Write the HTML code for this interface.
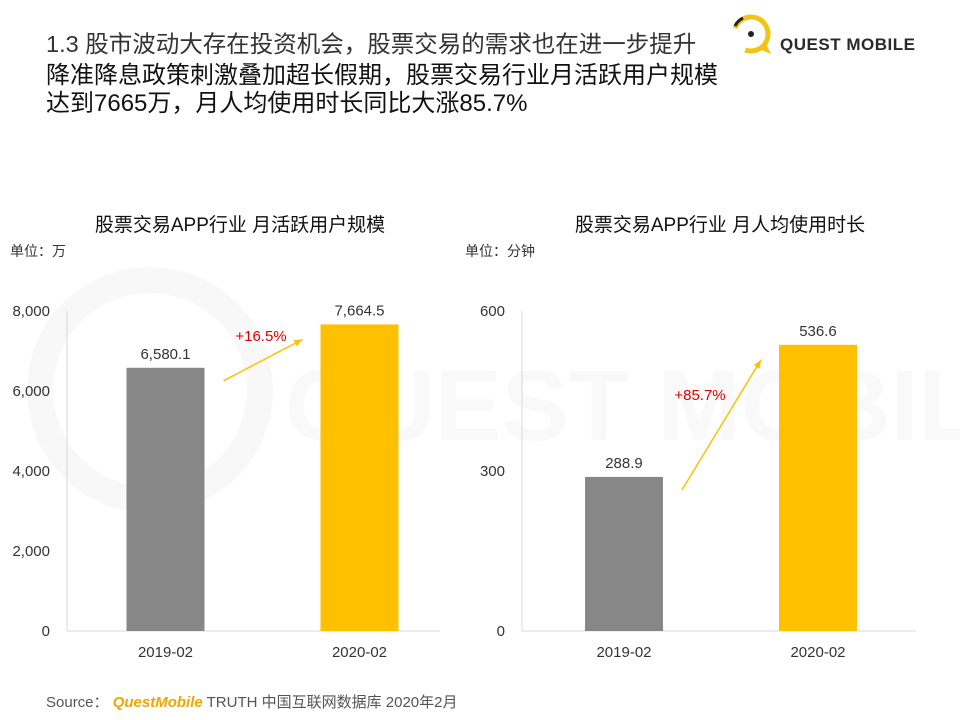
<!DOCTYPE html>
<html><head><meta charset="utf-8"><style>
body{margin:0;width:960px;height:720px;background:#fff;overflow:hidden;font-family:"Liberation Sans","Noto Sans CJK SC",sans-serif;position:relative}
.t{position:absolute;white-space:nowrap;color:#222}
</style></head><body>
<svg style="position:absolute;left:0;top:0" width="960" height="720">
<circle cx="150" cy="390" r="110" fill="none" stroke="#f8f8f8" stroke-width="26"/>
<text x="285" y="440" font-size="100" font-weight="bold" fill="#f9f9f9" font-family="Liberation Sans">QUEST MOBILE</text>
</svg>
<div class="t" style="left:46px;top:25px;font-size:23.5px;color:#333">1.3 股市波动大存在投资机会，股票交易的需求也在进一步提升</div>
<div class="t" style="left:46px;top:62px;font-size:24px;line-height:28px;color:#111">降准降息政策刺激叠加超长假期，股票交易行业月活跃用户规模<br>达到7665万，月人均使用时长同比大涨85.7%</div>
<svg style="position:absolute;left:727px;top:12px" width="220" height="50">
<circle cx="24" cy="22" r="17" fill="none" stroke="#f3c316" stroke-width="5" stroke-dasharray="80 27" transform="rotate(200 24 22)"/>
<path d="M30 36 L44 42 L38 30Z" fill="#f3c316"/>
<circle cx="24" cy="22" r="3" fill="#222"/>
<path d="M8 14 A17 17 0 0 1 16 6" stroke="#222" stroke-width="3" fill="none"/>
<text x="53" y="38" font-size="17" font-weight="bold" fill="#2a2a2a" font-family="Liberation Sans" textLength="135">QUEST MOBILE</text>
</svg>
<svg id="chart" style="position:absolute;left:0;top:0" width="960" height="720" font-family="Liberation Sans, Noto Sans CJK SC, sans-serif"></svg>
<div class="t" style="left:46px;top:691px;font-size:15px;color:#555">Source：&nbsp;<span style="color:#f0a500;font-weight:bold;font-style:italic">QuestMobile</span> TRUTH 中国互联网数据库 2020年2月</div>
<script>
const categories=["2019-02","2020-02"];
const mauValues=[6580.1,7664.5];
const durValues=[288.9,536.6];
const mauTicks=[0,2000,4000,6000,8000];
const durTicks=[0,300,600];
const mauGrowth="+16.5%";
const durGrowth="+85.7%";
const svg=document.getElementById('chart');
const NS='http://www.w3.org/2000/svg';
function mk(tag,a,txt){const e=document.createElementNS(NS,tag);for(const k in a)e.setAttribute(k,a[k]);if(txt!==undefined)e.textContent=txt;svg.appendChild(e);return e;}
function fmt(v,dec){return v.toLocaleString('en-US',{minimumFractionDigits:dec,maximumFractionDigits:dec});}
function drawChart(o){
  const y=v=>631-v/o.max*320;
  const ax=mk('line',{x1:o.ax,y1:311,x2:o.ax,y2:631,stroke:'#d9d9d9'});
  
  const bl=mk('line',{x1:o.ax,y1:631,x2:o.ax+o.w,y2:631,stroke:'#d9d9d9'});
  
  o.ticks.forEach(t=>{const e=mk('text',{x:o.ax-17,y:y(t)+5,'text-anchor':'end','font-size':15,fill:'#333'},fmt(t,0));
    });
  const cx=[o.ax+o.off,o.ax+o.off+194];
  const colors=['#878787','#ffc000'];
  o.vals.forEach((v,i)=>{
    const r=mk('rect',{x:cx[i]-39,y:y(v),width:78,height:631-y(v),fill:colors[i]});
    
    const l=mk('text',{x:cx[i],y:y(v)-9,'text-anchor':'middle','font-size':15,fill:'#333'},fmt(v,1));
    
    const c=mk('text',{x:cx[i],y:657,'text-anchor':'middle','font-size':15,fill:'#333'},categories[i]);
    
  });
  const x1=cx[0]+58,y1=y(o.vals[0])+13,x2=cx[1]-57,y2=y(o.vals[1])+15;
  const ar=mk('line',{x1:x1,y1:y1,x2:x2,y2:y2,stroke:'#ffc000','stroke-width':1.5});
  
  const ang=Math.atan2(y2-y1,x2-x1);
  const hp=[[x2,y2],[x2-9*Math.cos(ang-0.4),y2-9*Math.sin(ang-0.4)],[x2-9*Math.cos(ang+0.4),y2-9*Math.sin(ang+0.4)]];
  const h=mk('polygon',{points:hp.map(p=>p.join(',')).join(' '),fill:'#ffc000'});
  
  const g=mk('text',{x:o.gx,y:o.gy,'text-anchor':'middle','font-size':15,fill:'#e00000'},o.growth);
  
  const tt=mk('text',{x:o.tx,y:231,'text-anchor':'middle','font-size':19,fill:'#111'},o.title);
  
  const u=mk('text',{x:o.ux,y:256,'font-size':14,fill:'#333'},o.unit);
  
}
drawChart({id:'mau',ax:67,w:373,off:98.5,max:8000,ticks:mauTicks,vals:mauValues,growth:mauGrowth,gx:261,gy:341,tx:240,ux:10,title:'股票交易APP行业 月活跃用户规模',unit:'单位：万'});
drawChart({id:'duration',ax:522,w:394,off:102,max:600,ticks:durTicks,vals:durValues,growth:durGrowth,gx:700,gy:400,tx:720,ux:465,title:'股票交易APP行业 月人均使用时长',unit:'单位：分钟'});
</script>
</body></html>
